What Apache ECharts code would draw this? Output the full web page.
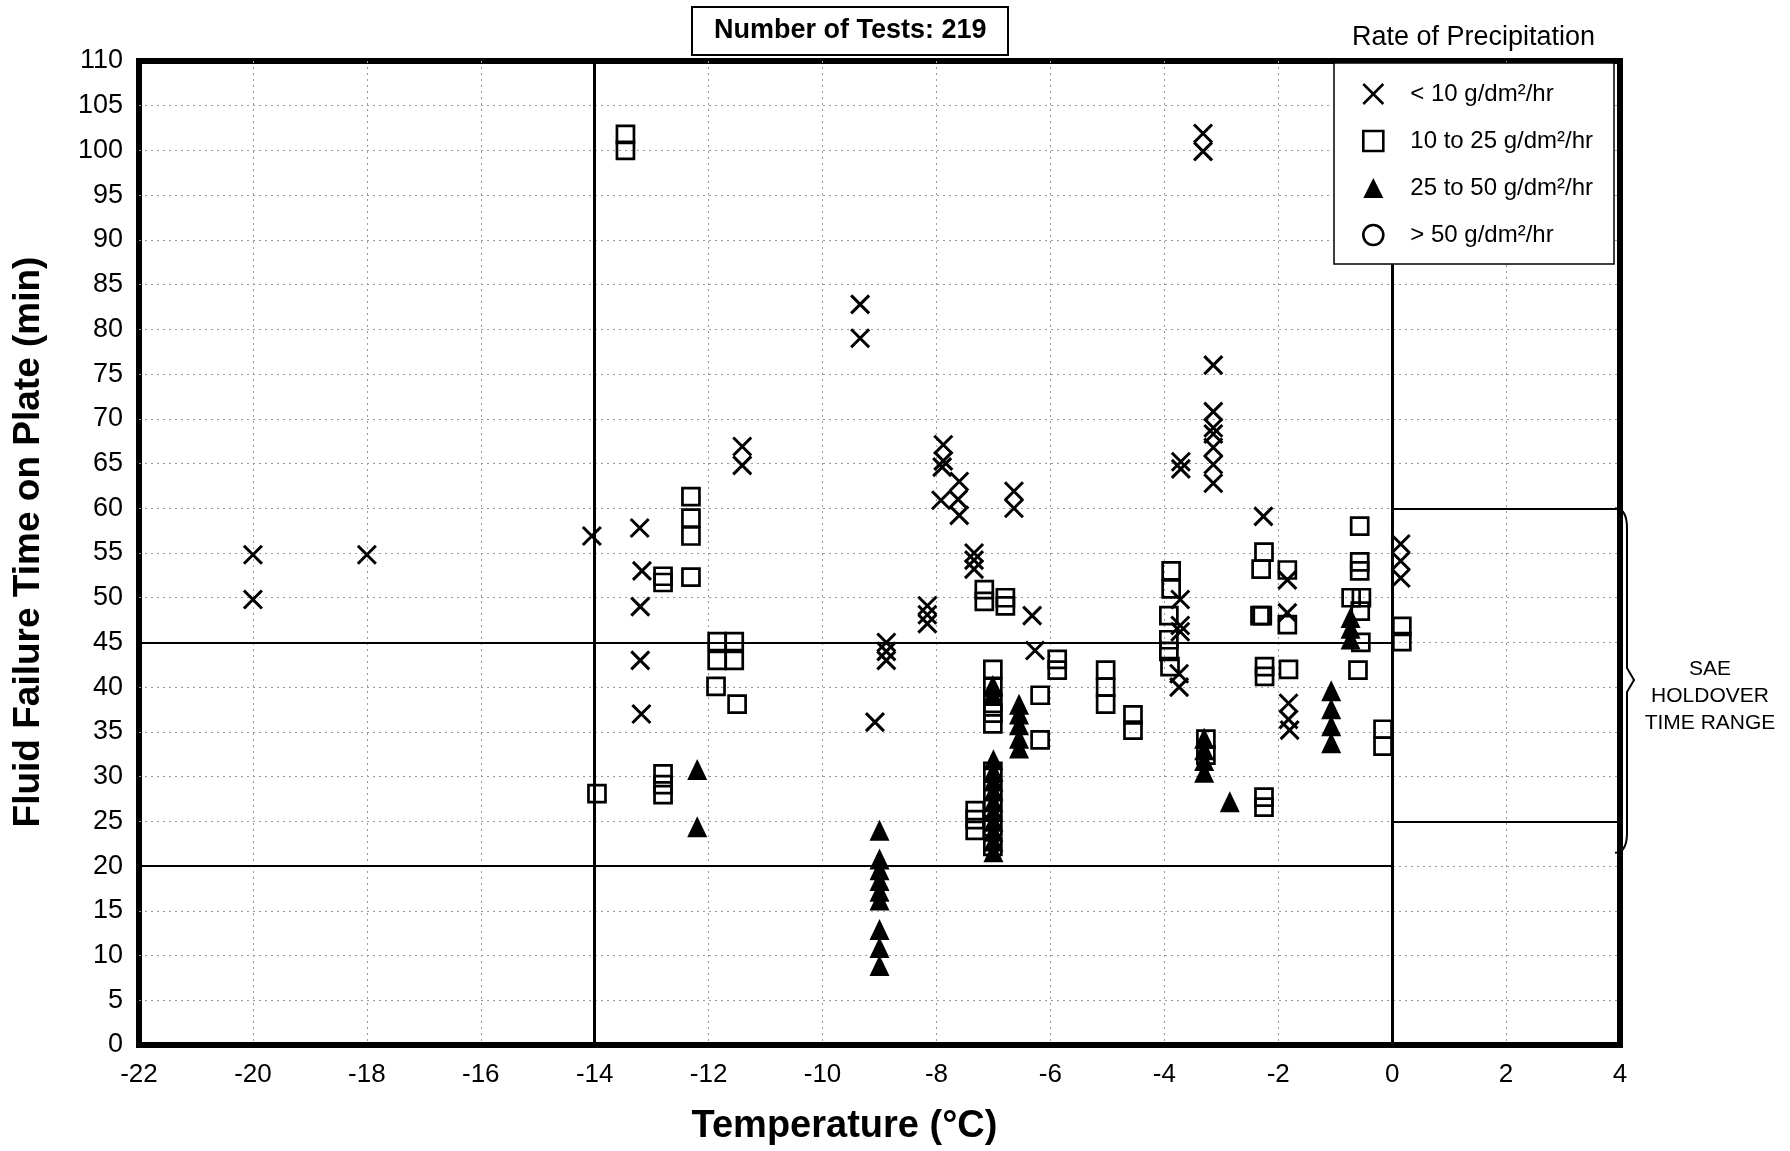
<!DOCTYPE html>
<html>
<head>
<meta charset="utf-8">
<script src="https://cdn.jsdelivr.net/npm/echarts@6/dist/echarts.min.js"></script>
<style>
  html, body { margin: 0; padding: 0; background: #fff; width: 1790px; height: 1151px; overflow: hidden; }
  #chart { width: 1790px; height: 1151px; overflow: hidden; }
</style>
</head>
<body>
<div id="chart"></div>
<script>
// ---------------- DATA ----------------
const seriesNames = ['< 10 g/dm²/hr', '10 to 25 g/dm²/hr', '25 to 50 g/dm²/hr', '> 50 g/dm²/hr'];

// [temperature °C, failure time min]
const lowRate = [
  [-20, 54.8], [-20, 49.8], [-18, 54.8], [-14.05, 56.9],
  [-13.21, 57.8], [-13.17, 53.0], [-13.2, 49.0], [-13.2, 43.0], [-13.18, 37.0],
  [-11.41, 66.9], [-11.41, 64.8],
  [-9.34, 82.8], [-9.34, 79.0],
  [-9.08, 36.1],
  [-8.88, 45.0], [-8.88, 44.0], [-8.88, 43.0],
  [-8.16, 49.1], [-8.16, 48.1], [-8.16, 47.1],
  [-7.88, 67.1], [-7.88, 65.3], [-7.9, 64.6], [-7.92, 60.9],
  [-7.6, 63.0], [-7.62, 61.0], [-7.6, 59.2],
  [-7.34, 55.0], [-7.34, 54.2], [-7.34, 53.2],
  [-6.64, 61.9], [-6.64, 60.0],
  [-6.32, 48.0], [-6.27, 44.1],
  [-3.32, 101.9], [-3.32, 99.9],
  [-3.71, 65.2], [-3.71, 64.4],
  [-3.14, 76.0], [-3.14, 70.8], [-3.14, 69.0], [-3.14, 68.3], [-3.14, 66.8], [-3.14, 64.9], [-3.14, 62.8],
  [-3.72, 49.8], [-3.72, 46.9], [-3.72, 46.2], [-3.74, 41.5], [-3.74, 40.0],
  [-2.26, 59.1],
  [-1.84, 52.0], [-1.84, 48.3],
  [-1.82, 38.2], [-1.82, 36.4], [-1.8, 35.2],
  [0.15, 56.0], [0.15, 54.1], [0.15, 52.2]
];

const midRate = [
  [-13.46, 101.8], [-13.46, 100.0],
  [-12.31, 61.3], [-12.31, 58.9], [-12.31, 56.9], [-12.31, 52.3],
  [-12.8, 52.4], [-12.8, 51.7],
  [-13.96, 28.1],
  [-12.8, 30.3], [-12.8, 29.1], [-12.8, 28.0],
  [-11.85, 45.1], [-11.55, 45.1], [-11.85, 43.0], [-11.55, 43.0],
  [-11.87, 40.1], [-11.5, 38.1],
  [-7.16, 50.9], [-7.16, 49.6],
  [-6.79, 50.0], [-6.79, 49.1],
  [-7.01, 42.0], [-7.01, 40.0], [-7.01, 38.2], [-7.01, 37.1], [-7.01, 35.9],
  [-7.01, 30.6], [-7.01, 28.5], [-7.01, 26.5], [-7.01, 24.4], [-7.01, 22.2],
  [-7.32, 26.2], [-7.32, 25.2], [-7.32, 24.0],
  [-6.18, 39.1], [-6.18, 34.1],
  [-5.88, 43.1], [-5.88, 41.9],
  [-5.03, 41.9], [-5.03, 40.0], [-5.03, 38.1],
  [-4.55, 36.9], [-4.55, 35.2],
  [-3.88, 53.0], [-3.88, 51.0], [-3.92, 48.0], [-3.92, 45.3], [-3.92, 44.0], [-3.9, 42.3],
  [-3.27, 34.2], [-3.27, 32.4],
  [-2.25, 55.1], [-2.3, 53.2],
  [-2.32, 48.0], [-2.28, 48.0],
  [-2.24, 42.3], [-2.24, 41.2],
  [-1.84, 53.1], [-1.84, 47.0], [-1.82, 42.0],
  [-2.25, 27.7], [-2.25, 26.6],
  [-0.57, 58.0], [-0.57, 54.0], [-0.57, 53.0], [-0.72, 50.0], [-0.54, 50.0], [-0.56, 48.5], [-0.55, 45.0], [-0.6, 41.9],
  [-0.16, 35.3], [-0.16, 33.4],
  [0.17, 46.8], [0.17, 45.1]
];

const highRate = [
  [-12.2, 30.8], [-12.2, 24.4],
  [-9.0, 24.0], [-9.0, 20.8], [-9.0, 19.6], [-9.0, 18.4], [-9.0, 17.2], [-9.0, 16.2], [-9.0, 12.9], [-9.0, 10.9], [-9.0, 8.9],
  [-7.01, 40.2], [-7.01, 39.2],
  [-7.0, 31.9], [-7.0, 30.6], [-7.0, 29.5], [-7.0, 28.4], [-7.0, 27.2], [-7.0, 26.1], [-7.0, 25.0], [-7.0, 23.9], [-7.0, 22.8], [-7.0, 21.6],
  [-6.55, 38.1], [-6.55, 37.0], [-6.55, 35.8], [-6.55, 34.3], [-6.55, 33.2],
  [-3.3, 34.3], [-3.3, 33.0], [-3.3, 31.8], [-3.3, 30.5],
  [-2.85, 27.2],
  [-1.07, 39.6], [-1.07, 37.6], [-1.07, 35.7], [-1.07, 33.8],
  [-0.73, 47.8], [-0.73, 46.6], [-0.73, 45.4]
];

const veryHighRate = [];

// axes
const xMin = -22, xMax = 4, xStep = 2;
const yMin = 0, yMax = 110, yStep = 5;

// reference lines
const refVerticals = [-14, 0];
const holdoverLow = { from: -22, to: 0, top: 45, bottom: 20 };
const holdoverSAE = { from: 0, to: 4, top: 60, bottom: 25 };
const braceValues = { top: 60, tip: 40.8, bottom: 21.5 };

// ---------------- CHART ----------------
const FONT = "'Liberation Sans', Arial, Helvetica, sans-serif";
const chart = echarts.init(document.getElementById('chart'), null, { renderer: 'canvas', width: 1790, height: 1151 });

const xPath = 'path://M0,0L10,10M10,0L0,10';
const hollowX = { color: 'transparent', borderColor: '#000', borderWidth: 3, opacity: 1 };
const hollowSq = { color: 'transparent', borderColor: '#000', borderWidth: 2.7, opacity: 1 };
const gridLine = { show: true, showMinLine: false, showMaxLine: false, lineStyle: { color: '#9a9a9a', width: 1, type: [2, 4] } };

const option = {
  backgroundColor: '#fff',
  animation: false,
  textStyle: { fontFamily: FONT, color: '#000' },
  title: [
    {
      text: 'Number of Tests: 219',
      left: 692, top: 7,
      padding: [10, 22, 11, 22],
      borderColor: '#000', borderWidth: 2,
      textStyle: { fontFamily: FONT, fontSize: 27, fontWeight: 'bold', color: '#000' }
    },
    {
      text: 'Rate of Precipitation',
      left: 1352, top: 24, padding: 0,
      textStyle: { fontFamily: FONT, fontSize: 27, fontWeight: 'normal', color: '#000' }
    },
    {
      text: 'SAE\nHOLDOVER\nTIME RANGE',
      left: 1710, top: 656, padding: 0,
      textAlign: 'center',
      textStyle: { fontFamily: FONT, fontSize: 21, fontWeight: 'normal', color: '#000', lineHeight: 27, align: 'center' }
    }
  ],
  legend: {
    orient: 'vertical',
    left: 1334, top: 63,
    padding: [19, 20, 19, 28],
    itemWidth: 20, itemHeight: 20,
    itemGap: 23,
    z: 10,
    textStyle: { fontFamily: FONT, fontSize: 24, color: '#000', padding: [0, 0, 0, 22] },
    data: [
      { name: seriesNames[0], icon: xPath, itemStyle: { color: 'transparent', borderColor: '#000', borderWidth: 2.6, opacity: 1 } },
      { name: seriesNames[1], icon: 'rect', itemStyle: { color: 'transparent', borderColor: '#000', borderWidth: 2.6, opacity: 1 } },
      { name: seriesNames[2], icon: 'triangle', itemStyle: { color: '#000', borderWidth: 0, opacity: 1 } },
      { name: seriesNames[3], icon: 'circle', itemStyle: { color: 'transparent', borderColor: '#000', borderWidth: 2.6, opacity: 1 } }
    ]
  },
  grid: {
    left: 139, top: 61, width: 1481, height: 989,
    show: true, borderColor: '#000', borderWidth: 6, backgroundColor: 'transparent'
  },
  xAxis: {
    type: 'value', min: xMin, max: xMax, interval: xStep,
    name: 'Temperature (°C)', nameLocation: 'middle', nameGap: 63,
    nameTextStyle: { fontFamily: FONT, fontSize: 38, fontWeight: 'bold', color: '#000', padding: [0, 70, 0, 0] },
    axisLine: { show: false }, axisTick: { show: false },
    axisLabel: { fontFamily: FONT, fontSize: 26, color: '#000', margin: 17 },
    splitLine: gridLine
  },
  yAxis: {
    type: 'value', min: yMin, max: yMax, interval: yStep,
    name: 'Fluid Failure Time on Plate (min)', nameLocation: 'middle', nameGap: 92,
    nameTextStyle: { fontFamily: FONT, fontSize: 37, fontWeight: 'bold', color: '#000', padding: [0, 0, 0, 22] },
    axisLine: { show: false }, axisTick: { show: false },
    axisLabel: { fontFamily: FONT, fontSize: 27, color: '#000', margin: 16 },
    splitLine: gridLine
  },
  series: [
    {
      name: seriesNames[0], type: 'scatter', data: lowRate,
      symbol: xPath, symbolSize: 18, itemStyle: hollowX, z: 5,
      markLine: {
        silent: true, symbol: 'none', label: { show: false }, animation: false,
        lineStyle: { color: '#000', type: 'solid', width: 2, opacity: 1 },
        data: [
          ...refVerticals.map(v => ({ xAxis: v, lineStyle: { width: 3, color: '#000', type: 'solid' } })),
          [{ coord: [holdoverLow.from, holdoverLow.top] }, { coord: [holdoverLow.to, holdoverLow.top] }],
          [{ coord: [holdoverLow.from, holdoverLow.bottom] }, { coord: [holdoverLow.to, holdoverLow.bottom] }],
          [{ coord: [holdoverSAE.from, holdoverSAE.top] }, { coord: [holdoverSAE.to, holdoverSAE.top] }],
          [{ coord: [holdoverSAE.from, holdoverSAE.bottom] }, { coord: [holdoverSAE.to, holdoverSAE.bottom] }]
        ]
      }
    },
    {
      name: seriesNames[1], type: 'scatter', data: midRate,
      symbol: 'rect', symbolSize: 17, itemStyle: hollowSq, z: 5
    },
    {
      name: seriesNames[2], type: 'scatter', data: highRate,
      symbol: 'triangle', symbolSize: [20, 21], itemStyle: { color: '#000', opacity: 1 }, z: 5
    },
    {
      name: seriesNames[3], type: 'scatter', data: veryHighRate,
      symbol: 'circle', symbolSize: 17, itemStyle: hollowSq, z: 5
    }
  ]
};

chart.setOption(option);

// legend frame and brace (annotations placed relative to the axes)
const topRight = chart.convertToPixel({ gridIndex: 0 }, [xMax, yMax]);
const bTop = chart.convertToPixel({ gridIndex: 0 }, [xMax, braceValues.top]);
const bTip = chart.convertToPixel({ gridIndex: 0 }, [xMax, braceValues.tip]);
const bBot = chart.convertToPixel({ gridIndex: 0 }, [xMax, braceValues.bottom]);
const rx = bTop[0] - 5, xb = bTop[0] + 7, xt = bTop[0] + 14;

function quad(p0, p1, p2, n) {
  const pts = [];
  for (let i = 0; i <= n; i++) {
    const t = i / n;
    pts.push([
      (1 - t) * (1 - t) * p0[0] + 2 * (1 - t) * t * p1[0] + t * t * p2[0],
      (1 - t) * (1 - t) * p0[1] + 2 * (1 - t) * t * p1[1] + t * t * p2[1]
    ]);
  }
  return pts;
}
const bracePts = [
  ...quad([rx, bTop[1]], [xb, bTop[1]], [xb, bTop[1] + 20], 10),
  [xb, bTip[1] - 12], [xt, bTip[1]], [xb, bTip[1] + 12],
  ...quad([xb, bBot[1] - 20], [xb, bBot[1]], [rx, bBot[1]], 10)
];

chart.setOption({
  graphic: [
    {
      type: 'rect', z: 8, silent: true,
      shape: { x: 1334, y: topRight[1] + 2, width: topRight[0] - 1334 - 6, height: 201 },
      style: { fill: '#fff', stroke: '#000', lineWidth: 1.5 }
    },
    {
      type: 'polyline', z: 8, silent: true,
      shape: { points: bracePts },
      style: { fill: null, stroke: '#000', lineWidth: 2 }
    }
  ]
});
</script>
</body>
</html>
